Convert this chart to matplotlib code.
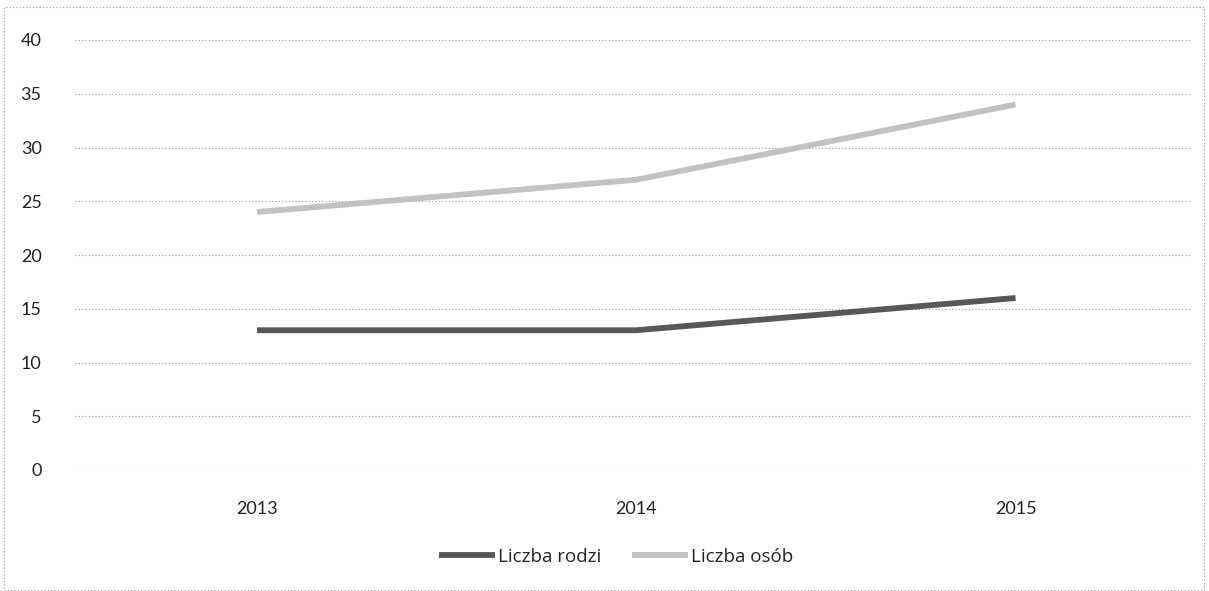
import matplotlib.pyplot as plt
from matplotlib.patches import Rectangle

plt.rcParams['font.family'] = ['Lato', 'DejaVu Sans']

years = ['2013', '2014', '2015']
rodzin = [13, 13, 16]
osob = [24, 27, 34]
yticks = [0, 5, 10, 15, 20, 25, 30, 35, 40]

fig = plt.figure(figsize=(12.09, 5.91), dpi=100)
ax = fig.add_axes([75/1209, 1-470/591, 1115/1209, 430/591])

x = range(len(years))
ax.plot(x, rodzin, color='#585858', lw=4.2, solid_capstyle='butt', label='Liczba rodzi')
ax.plot(x, osob, color='#c2c2c2', lw=4.2, solid_capstyle='butt', label='Liczba osób')

ax.set_ylim(0, 40)
ax.set_xlim(-0.48, 2.46)
ax.set_yticks(yticks)
ax.set_xticks(list(x))
ax.set_xticklabels(years)
ax.grid(axis='y', color='#9a9a9a', ls=(0, (1, 2)), lw=0.8)
ax.set_axisbelow(True)
for s in ax.spines.values():
    s.set_visible(False)
ax.tick_params(length=0, labelsize=13, colors='#222222')
ax.tick_params(axis='y', pad=24)
ax.tick_params(axis='x', pad=22)

leg = fig.legend(loc='center', bbox_to_anchor=(616/1209, 1-557/591), ncol=2,
                 frameon=False, prop={'family': ['Open Sans', 'DejaVu Sans'], 'size': 13.5},
                 handlelength=3.0, handletextpad=0.15, columnspacing=1.6)
for t in leg.get_texts():
    t.set_color('#222222')

# scanned frame border
fig.add_artist(Rectangle((4/1209, 0.002), 1200/1209, 1-8/591, transform=fig.transFigure,
                         fill=False, ec='#9a9a9a', ls=(0, (1, 2)), lw=0.8))

fig.savefig('out.png', dpi=100, facecolor='white')
